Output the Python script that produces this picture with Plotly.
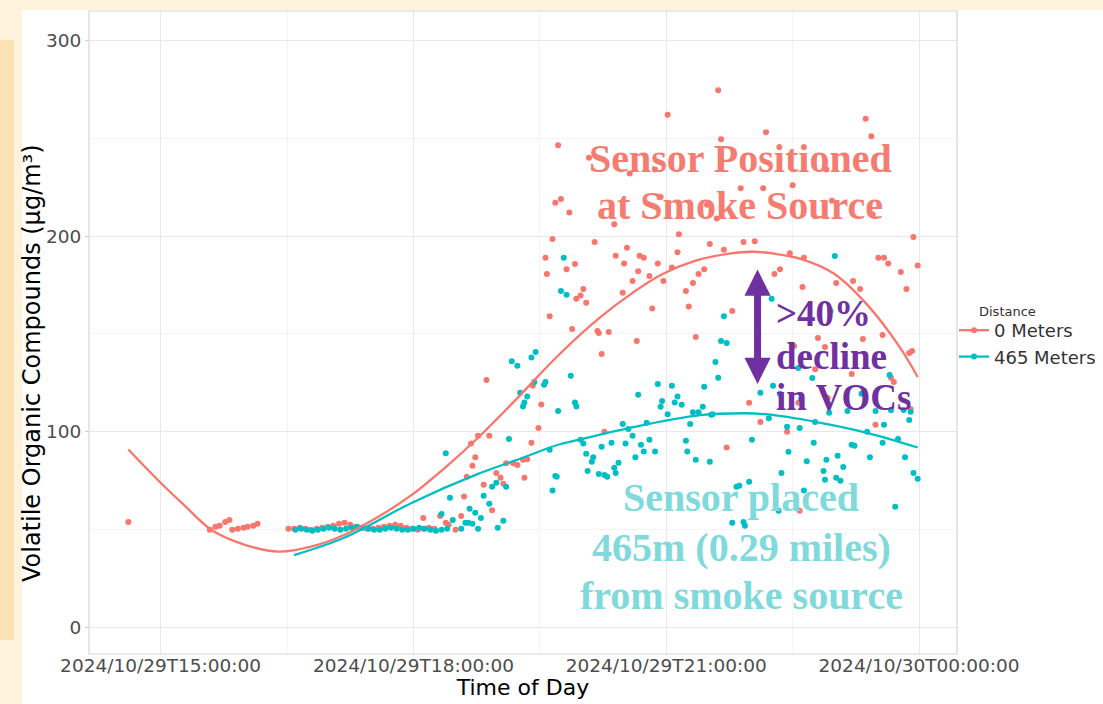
import plotly.graph_objects as go

DAY = "2024-10-29 "

# ---------------- data ----------------
red_times = [
    "14:37", "15:35", "15:39", "15:42", "15:46", "15:49", "15:51", "15:55", "15:59", "16:02", "16:06", "16:09",
    "16:31", "16:35", "16:39", "16:43", "16:47", "16:51", "16:55", "16:59", "17:03", "17:07", "17:11", "17:15",
    "17:19", "17:23", "17:27", "17:31", "17:35", "17:39", "17:43", "17:47", "17:51", "17:55", "17:59", "18:03",
    "18:07", "18:11", "18:15",
    "18:07", "18:19", "18:23", "18:25", "18:30", "18:34", "18:36", "18:38", "18:41", "18:42", "18:44", "18:46",
    "18:50", "18:52", "18:54", "18:56", "18:59", "19:02", "19:04", "19:06", "19:11", "19:14", "19:18", "19:19",
    "19:21", "19:24", "19:25", "19:29", "19:31", "19:34", "19:35", "19:37", "19:39", "19:41", "19:43", "19:45",
    "19:49", "19:51", "19:53", "19:55", "19:56", "19:59", "20:01", "20:03", "20:05", "20:09", "20:11", "20:12",
    "20:14", "20:16", "20:19", "20:23", "20:24", "20:29", "20:30", "20:32", "20:34", "20:36", "20:39", "20:40",
    "20:41", "20:44", "20:48", "20:50", "20:52", "20:54", "20:56", "20:58", "21:01", "21:04", "21:08", "21:09",
    "21:14", "21:16", "21:19", "21:21", "21:23", "21:27", "21:29", "21:31", "21:36", "21:37", "21:39", "21:41",
    "21:43", "21:47", "21:53", "21:55", "21:59", "22:01", "22:03", "22:07", "22:09", "22:11", "22:17", "22:21",
    "22:26", "22:28", "22:30", "22:31", "22:34", "22:35", "22:36", "22:37", "22:38", "22:46", "22:48", "22:53",
    "22:54", "22:55", "22:58", "23:01", "23:12", "23:13", "23:18", "23:20", "23:21", "23:22", "23:26", "23:27",
    "23:29", "23:31", "23:34", "23:35", "23:38", "23:40", "23:42", "23:47", "23:51", "23:53", "23:54", "23:55",
    "23:56", "23:59",
]
red_vocs = [
    54, 50, 51.5, 52, 54, 55, 50, 50.5, 51, 51.5, 52, 53,
    50.5, 50.5, 51, 50.5, 50, 50.5, 51, 51.5, 52, 53, 53.5, 52.5,
    51.5, 51, 50.5, 50.5, 51, 51.5, 52, 52.5, 52, 51, 50.5, 50,
    50.5, 51, 50.5,
    56, 57, 53.5, 52.5, 50, 57, 67, 77, 94, 82.7, 87, 98,
    73, 126.5, 98, 60, 79, 76.5, 73.5, 84, 84, 83, 85.7, 76.5,
    86, 94.4, 123.5, 102, 114, 189, 180.6, 159, 198.5, 217, 246.4, 219,
    183, 212, 152.5, 185.7, 168, 169.6, 173, 166, 240, 197, 151.5, 150.5,
    139.8, 100, 151, 206, 190, 171, 186, 194, 232, 177, 146.4, 182,
    190, 189, 179.6, 163, 234, 186, 220, 177, 262, 184, 191.8, 201,
    172, 164, 176, 148.5, 180.6, 183, 216, 196, 209, 274.5, 249.5, 193,
    92, 161.7, 224.5, 197, 114.8, 171.4, 197.4, 105, 224.5, 253, 180.6, 183,
    100, 191.3, 226, 143.9, 114.8, 59.7, 137.8, 174, 189, 132, 148, 143.4,
    234, 117.3, 218, 176, 129.6, 177, 173, 147.4, 121, 260, 251, 211,
    103.6, 189, 149.5, 189, 186, 127.6, 125.5, 181.6, 173, 140.3, 111.7, 141.3,
    199.5, 185,
]

teal_times = [
    "16:36", "16:40", "16:44", "16:48", "16:52", "16:56", "17:00", "17:04", "17:08", "17:12", "17:16", "17:20",
    "17:24", "17:28", "17:32", "17:36", "17:40", "17:44", "17:48", "17:52", "17:56", "18:00", "18:04", "18:08",
    "18:12", "18:16", "18:20", "18:24",
    "18:20", "18:23", "18:26", "18:28", "18:34", "18:37", "18:39", "18:40", "18:42", "18:44", "18:46", "18:48",
    "18:50", "18:54", "18:56", "18:59", "19:00", "19:04", "19:06", "19:08", "19:10", "19:14", "19:16", "19:18",
    "19:19", "19:21", "19:24", "19:26", "19:27", "19:33", "19:34", "19:37", "19:39", "19:41", "19:42", "19:43",
    "19:45", "19:47", "19:49", "19:52", "19:55", "19:56", "19:59", "20:01", "20:03", "20:04", "20:07", "20:08",
    "20:12", "20:14", "20:16", "20:18", "20:21", "20:23", "20:24", "20:26", "20:29", "20:31", "20:33", "20:36",
    "20:38", "20:40", "20:42", "20:44", "20:46", "20:48", "20:52", "20:54", "20:56", "20:57", "21:01", "21:04",
    "21:06", "21:08", "21:11", "21:14", "21:15", "21:17", "21:19", "21:21", "21:23", "21:26", "21:27", "21:31",
    "21:32", "21:33", "21:35", "21:37", "21:39", "21:41", "21:43", "21:47", "21:50", "21:52", "21:55", "21:56",
    "21:59", "22:01", "22:07", "22:13", "22:15", "22:16", "22:20", "22:21", "22:22", "22:26", "22:27", "22:34",
    "22:35", "22:36", "22:38", "22:40", "22:44", "22:45", "22:46", "22:52", "22:53", "22:54", "22:56", "22:57",
    "23:00", "23:01", "23:02", "23:04", "23:06", "23:09", "23:12", "23:14", "23:19", "23:23", "23:25", "23:29",
    "23:34", "23:35", "23:39", "23:40", "23:43", "23:45", "23:49", "23:50", "23:53", "23:54", "23:56", "23:59",
]
teal_vocs = [
    50, 50.5, 50, 49.5, 50, 50.5, 51, 50.5, 50, 50.5, 51, 51.5,
    51, 50.5, 50, 50, 50.5, 51, 50.5, 50, 50, 50.5, 51, 50.5,
    50, 49.5, 50, 50.5,
    58, 89, 66.3, 55, 50.5, 53.5, 53.6, 60.7, 53, 58.7, 50.5, 56,
    67.3, 63.3, 72, 74, 51, 54.6, 72, 96.4, 136, 133.7, 120, 113,
    115, 118, 138, 125.5, 140.8, 124, 125.5, 90.8, 70, 77.5, 77, 110.7,
    172, 189, 170, 128.6, 115, 113, 96, 94, 88.8, 80, 84.7, 87,
    78.5, 92.4, 78, 77, 94.4, 81.6, 79, 84.2, 104, 94, 101.5, 98,
    87, 119, 93.4, 90, 104.6, 96, 90, 124.5, 112.8, 115.8, 109, 123.5,
    115, 118, 113.8, 95.4, 90, 104, 110, 85.7, 110, 112.8, 123, 84.7,
    108.7, 109, 135.7, 127.6, 146.4, 159, 145.4, 53.6, 72, 72.4, 54, 52,
    74.5, 96, 120, 107, 168, 123.5, 59.7, 119.4, 79, 102.6, 89.8, 132.6,
    102, 116.8, 70, 85, 127.5, 94.4, 105, 80, 75.5, 85.7, 109.7, 161.7,
    189.8, 76.5, 87.8, 75, 82, 110.7, 93.4, 92.9, 119.4, 100, 87, 110.7,
    94.4, 103.6, 129, 111, 61.7, 96.4, 111.2, 87, 106, 110.2, 79, 76,
]

# smoothed (loess) curves
red_fit_times = ["14:37", "15:00", "15:18", "15:36", "16:00", "16:24", "16:47", "17:11", "17:35", "17:59",
                 "18:23", "18:46", "19:15", "19:43", "20:12", "20:36", "20:57", "21:21", "21:45", "22:01",
                 "22:17", "22:35", "22:59", "23:23", "23:46", "23:59"]
red_fit_vals = [91, 74, 61.7, 50, 42.3, 38.8, 41.3, 47.4, 56.6, 67.9,
                82, 97, 118, 139, 158, 171, 180.5, 187.5, 191, 192,
                191, 188.5, 181, 165, 143.5, 128]
teal_fit_times = ["16:35", "17:11", "17:59", "18:46", "19:15", "19:43", "19:58", "20:34", "21:24", "21:56",
                  "22:11", "22:47", "23:23", "23:59"]
teal_fit_vals = [37, 46, 63.8, 78.5, 86, 93.4, 96, 102, 108.5, 109.5,
                 109, 105, 99.5, 92]

legend_title = "Distance"
series_names = ["0 Meters", "465 Meters"]
x_tick_vals = ["2024-10-29 15:00", "2024-10-29 18:00", "2024-10-29 21:00", "2024-10-30 00:00"]
x_tick_text = ["2024/10/29T15:00:00", "2024/10/29T18:00:00", "2024/10/29T21:00:00", "2024/10/30T00:00:00"]
y_tick_vals = [0, 100, 200, 300]

# ---------------- styling ----------------
RED = "#F8766D"
TEAL = "#00BFC4"
PURPLE = "#7030a0"
W, H = 1103, 704
L, R, T, B = 89, 146, 11, 50
PW, PH = W - L - R, H - T - B


def px(xp):
    return (xp - L) / PW


def py(yp):
    return (H - B - yp) / PH


def ts(lst):
    return [DAY + t for t in lst]


fig = go.Figure()
fig.add_trace(go.Scatter(x=ts(red_times), y=red_vocs, mode="markers",
                         marker=dict(color=RED, size=6), showlegend=False))
fig.add_trace(go.Scatter(x=ts(teal_times), y=teal_vocs, mode="markers",
                         marker=dict(color=TEAL, size=6), showlegend=False))
fig.add_trace(go.Scatter(x=ts(red_fit_times), y=red_fit_vals, mode="lines",
                         line=dict(color=RED, width=2.3, shape="spline", smoothing=1.0), showlegend=False))
fig.add_trace(go.Scatter(x=ts(teal_fit_times), y=teal_fit_vals, mode="lines",
                         line=dict(color=TEAL, width=2.3, shape="spline", smoothing=1.0), showlegend=False))
# legend keys (line + point, as in ggplot)
for name, col in zip(series_names, [RED, TEAL]):
    fig.add_trace(go.Scatter(x=[None], y=[None], mode="lines+markers", name=name,
                             line=dict(color=col, width=2.3), marker=dict(color=col, size=6)))

grid_major = "#e8e8e8"
grid_minor = "#f4f4f4"
tick_font = dict(family="DejaVu Sans", size=18.5, color="#4d4d4d")

annots = []
serif = "Liberation Serif"
for text, yy in [("Sensor Positioned", 158), ("at Smoke Source", 205)]:
    annots.append(dict(xref="paper", yref="paper", x=px(740), y=py(yy), xanchor="center", yanchor="middle",
                       text="<b>" + text + "</b>", showarrow=False,
                       font=dict(family=serif, size=40, color="#f47c70")))
for text, yy in [("Sensor placed", 497), ("465m (0.29 miles)", 547), ("from smoke source", 595)]:
    annots.append(dict(xref="paper", yref="paper", x=px(741), y=py(yy), xanchor="center", yanchor="middle",
                       text="<b>" + text + "</b>", showarrow=False,
                       font=dict(family=serif, size=40, color="#80d9db")))
for text, yy in [("&gt;40%", 313), ("decline", 356), ("in VOCs", 397)]:
    annots.append(dict(xref="paper", yref="paper", x=px(774), y=py(yy), xanchor="left", yanchor="middle",
                       text="<b>" + text + "</b>", showarrow=False,
                       font=dict(family=serif, size=37, color=PURPLE)))
annots.append(dict(x="2024-10-29 22:05", y=124.5, ax="2024-10-29 22:05", ay=183.7,
                   xref="x", yref="y", axref="x", ayref="y", text="", showarrow=True,
                   arrowhead=2, startarrowhead=2, arrowside="end+start", arrowwidth=7,
                   arrowsize=0.75, startarrowsize=0.75, arrowcolor=PURPLE))
# y-axis title (placed as in the reference, slightly below the panel centre)
annots.append(dict(xref="paper", yref="paper", x=px(32), y=py(363), xanchor="center", yanchor="middle",
                   text="Volatile Organic Compounds (µg/m³)", textangle=-90, showarrow=False,
                   font=dict(family="DejaVu Sans", size=24, color="black")))
# legend title
annots.append(dict(xref="paper", yref="paper", x=px(977), y=py(311), xanchor="left", yanchor="middle",
                   text=legend_title, showarrow=False,
                   font=dict(family="DejaVu Sans", size=13, color="#333333")))

fig.update_layout(
    width=W, height=H,
    margin=dict(l=L, r=R, t=T, b=B, autoexpand=False),
    paper_bgcolor="#fdf2dc",
    plot_bgcolor="white",
    xaxis=dict(
        type="date",
        range=["2024-10-29 14:09", "2024-10-30 00:27"],
        tickvals=x_tick_vals, ticktext=x_tick_text,
        tickfont=tick_font,
        showgrid=True, gridcolor=grid_major, gridwidth=1,
        minor=dict(dtick=3 * 3600 * 1000, tick0="2024-10-29 16:30", showgrid=True,
                   gridcolor=grid_minor, gridwidth=1),
        zeroline=False, showline=False,
        ticks="", ticklabelstandoff=-2,
        title=dict(text="Time of Day", font=dict(family="DejaVu Sans", size=22, color="black"), standoff=4),
    ),
    yaxis=dict(
        range=[-13.5, 315],
        tickvals=y_tick_vals,
        tickfont=tick_font,
        showgrid=True, gridcolor=grid_major, gridwidth=1,
        minor=dict(dtick=100, tick0=50, showgrid=True, gridcolor=grid_minor, gridwidth=1),
        zeroline=False, showline=False,
        ticks="outside", ticklen=3, tickcolor="#d0d0d0",
    ),
    legend=dict(
        font=dict(family="DejaVu Sans", size=18, color="#333333"),
        x=px(954), xanchor="left", y=py(312), yanchor="top",
        bgcolor="rgba(0,0,0,0)", itemwidth=30, tracegroupgap=0,
    ),
    shapes=[
        # white slide area
        dict(type="rect", xref="paper", yref="paper", layer="below",
             x0=px(22), x1=px(W), y0=py(H), y1=py(10),
             fillcolor="white", line=dict(width=0)),
        # left orange strip
        dict(type="rect", xref="paper", yref="paper", layer="below",
             x0=px(0), x1=px(14), y0=py(640), y1=py(40),
             fillcolor="#fbe2b4", line=dict(width=0)),
        # panel border
        dict(type="rect", xref="paper", yref="paper", x0=0, x1=1, y0=0, y1=1,
             line=dict(color="#d6d6d6", width=1.2)),
    ],
    annotations=annots,
)

fig.write_html("out.html", config={"displayModeBar": False},
               post_script="document.body.style.margin='0px';document.body.style.overflow='hidden';")
